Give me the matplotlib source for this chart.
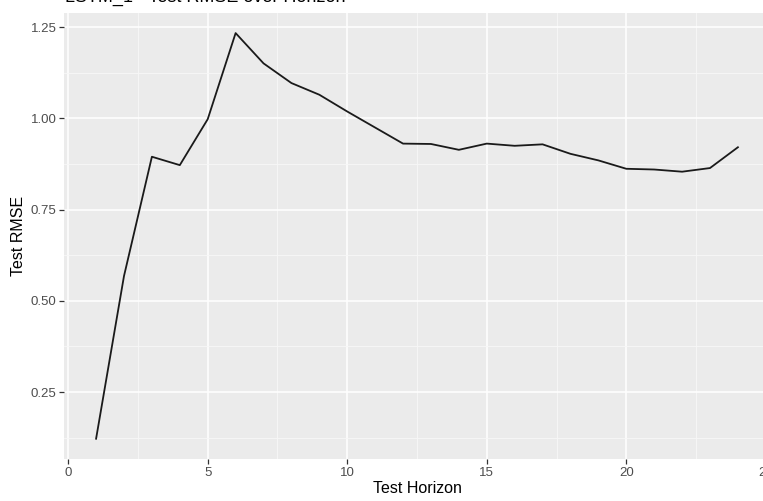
import matplotlib
matplotlib.use('Agg')
import matplotlib.pyplot as plt

# test horizon vs RMSE
horizon = list(range(1, 25))
rmse = [0.122, 0.568, 0.895, 0.872, 0.998, 1.234, 1.151, 1.097, 1.065, 1.019,
        0.975, 0.931, 0.930, 0.914, 0.931, 0.925, 0.929, 0.903, 0.885, 0.862,
        0.860, 0.854, 0.864, 0.921]
xticks = [0, 5, 10, 15, 20, 25]
yticks = [0.25, 0.50, 0.75, 1.00, 1.25]
yticklabels = ['0.25', '0.50', '0.75', '1.00', '1.25']
title = 'LSTM_1 - Test RMSE over Horizon'


def main():
    W, H = 763, 501
    plt.rcParams['font.family'] = ['Liberation Sans', 'DejaVu Sans']
    fig = plt.figure(figsize=(W / 100, H / 100), dpi=100)

    # panel runs past the right edge, like the cropped original
    left, right, top, bottom = 64, 770, 12.8, 459
    ax = fig.add_axes([left / W, 1 - bottom / H, (right - left) / W, (bottom - top) / H])
    ax.set_facecolor('#EBEBEB')

    ymin, ymax = min(rmse), max(rmse)
    pad = (ymax - ymin) * 0.05
    ax.set_ylim(ymin - pad, ymax + pad)
    ax.set_xlim(1 - 23 * 0.05, 24 + 23 * 0.05)

    ax.set_xticks(xticks)
    ax.set_xticklabels([str(t) for t in xticks])
    ax.set_yticks(yticks)
    ax.set_yticklabels(yticklabels)
    ax.set_xticks([2.5, 7.5, 12.5, 17.5, 22.5], minor=True)
    ax.set_yticks([0.125, 0.375, 0.625, 0.875, 1.125], minor=True)

    ax.grid(which='major', color='white', linewidth=1.1)
    ax.grid(which='minor', color='#F7F7F7', linewidth=0.6)
    ax.set_axisbelow(True)
    for s in ax.spines.values():
        s.set_visible(False)
    ax.tick_params(which='major', length=3.5, width=0.9, color='#333333',
                   labelcolor='#4D4D4D', labelsize=9.5, pad=2)
    ax.tick_params(which='minor', length=0)

    ax.plot(horizon, rmse, color='#1a1a1a', linewidth=1.3)

    ax.set_xlabel('Test Horizon', fontsize=11.5, labelpad=2)
    ax.set_ylabel('Test RMSE', fontsize=11.5, labelpad=3)

    # title sits almost entirely above the crop
    fig.text(65 / W, 1 - 1.5 / H, title, fontsize=13, ha='left', va='baseline')

    fig.savefig('out.png', dpi=100)


if __name__ == '__main__':
    main()
